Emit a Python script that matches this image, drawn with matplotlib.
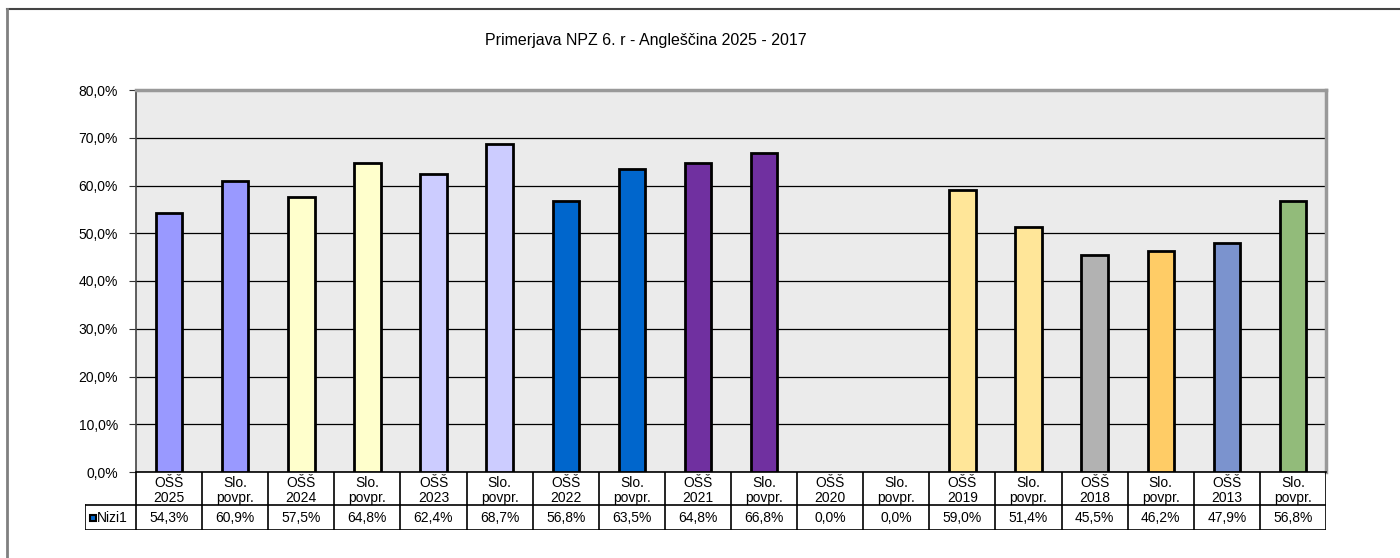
import matplotlib.pyplot as plt
from matplotlib.patches import Rectangle

plt.rcParams["font.family"] = ["Liberation Sans", "DejaVu Sans"]

TITLE = "Primerjava NPZ 6. r - Angleščina 2025 - 2017"
CATEGORIES = [
    "OŠŠ\n2025", "Slo.\npovpr.", "OŠŠ\n2024", "Slo.\npovpr.", "OŠŠ\n2023", "Slo.\npovpr.",
    "OŠŠ\n2022", "Slo.\npovpr.", "OŠŠ\n2021", "Slo.\npovpr.", "OŠŠ\n2020", "Slo.\npovpr.",
    "OŠŠ\n2019", "Slo.\npovpr.", "OŠŠ\n2018", "Slo.\npovpr.", "OŠŠ\n2013", "Slo.\npovpr.",
]
VALUES = [54.3, 60.9, 57.5, 64.8, 62.4, 68.7, 56.8, 63.5, 64.8, 66.8,
          0.0, 0.0, 59.0, 51.4, 45.5, 46.2, 47.9, 56.8]
COLORS = ["#9999FF", "#9999FF", "#FFFFCC", "#FFFFCC", "#CCCCFF", "#CCCCFF",
          "#0066CC", "#0066CC", "#7030A0", "#7030A0", "#FFFFFF", "#FFFFFF",
          "#FFE699", "#FFE699", "#B2B2B2", "#FFCC66", "#7B93CE", "#92BB7A"]
SERIES_NAME = "Nizi1"
Y_TICKS = [0, 10, 20, 30, 40, 50, 60, 70, 80]

W, H = 1400, 558
fig = plt.figure(figsize=(W / 100, H / 100), dpi=100)

# outer chart border (top and left visible)
fig.add_artist(plt.Line2D([7 / W, 1], [1 - 9 / H, 1 - 9 / H], color="#444444", lw=1.5))
fig.add_artist(plt.Line2D([7 / W, 7 / W], [0, 1 - 9 / H], color="#808080", lw=2))

px_l, px_r, px_t, px_b = 136, 1326, 90, 472
ax = fig.add_axes([px_l / W, 1 - px_b / H, (px_r - px_l) / W, (px_b - px_t) / H])
ax.set_facecolor("#EBEBEB")
n = len(VALUES)
x = [i + 0.5 for i in range(n)]
for xi, v, c in zip(x, VALUES, COLORS):
    if v > 0:
        ax.bar(xi, v, width=0.4, color=c, edgecolor="black", linewidth=2, zorder=3)
ax.set_xlim(0, n)
ax.set_ylim(0, 80)
ax.set_yticks(Y_TICKS)
ax.set_yticklabels([f"{t:.1f}%".replace(".", ",") for t in Y_TICKS], fontsize=10)
ax.yaxis.grid(True, color="black", lw=0.9)
ax.set_axisbelow(True)
ax.set_xticks([])
ax.tick_params(axis="y", length=5, color="#333333", pad=8)
for s in ["top", "right"]:
    ax.spines[s].set_color("#999999")
    ax.spines[s].set_linewidth(2.5)
ax.spines["left"].set_color("#444444")
ax.spines["left"].set_linewidth(1.2)
ax.spines["bottom"].set_color("black")
ax.spines["bottom"].set_linewidth(1.2)

fig.text(646 / W, 1 - 40 / H, TITLE, ha="center", va="center", fontsize=11.5)

# data table below the plot
t_left, t_row, t_bot = 85, 505, 530
cw = (px_r - px_l) / n
tax = fig.add_axes([t_left / W, 1 - t_bot / H, (px_r - t_left) / W, (t_bot - px_b) / H])
tax.set_xlim(-(px_l - t_left) / cw, n)
tax.set_ylim(0, t_bot - px_b)
tax.invert_yaxis()
tax.axis("off")
row_y = t_row - px_b
full_y = t_bot - px_b
lk = dict(color="black", lw=1.2)
tax.plot([0, 0], [0, full_y], **lk)
for i in range(1, n + 1):
    tax.plot([i, i], [0, full_y], **lk)
xl = -(px_l - t_left) / cw
tax.plot([xl, n], [row_y, row_y], **lk)
tax.plot([xl, n], [full_y, full_y], **lk)
tax.plot([xl, xl], [row_y, full_y], **lk)
for xi, lab, v in zip(x, CATEGORIES, VALUES):
    tax.text(xi, row_y / 2 + 2, lab, ha="center", va="center", fontsize=10, linespacing=1.15)
    tax.text(xi, (row_y + full_y) / 2, f"{v:.1f}%".replace(".", ","), ha="center", va="center", fontsize=10)
sq = 6 / cw
tax.add_patch(Rectangle((xl + 5 / cw, (row_y + full_y) / 2 - 3), sq, 6,
                        facecolor="#0066CC", edgecolor="black", lw=1.5, clip_on=False))
tax.text(xl + 12 / cw, (row_y + full_y) / 2, SERIES_NAME, ha="left", va="center", fontsize=10)

fig.savefig("out.png", dpi=100)
